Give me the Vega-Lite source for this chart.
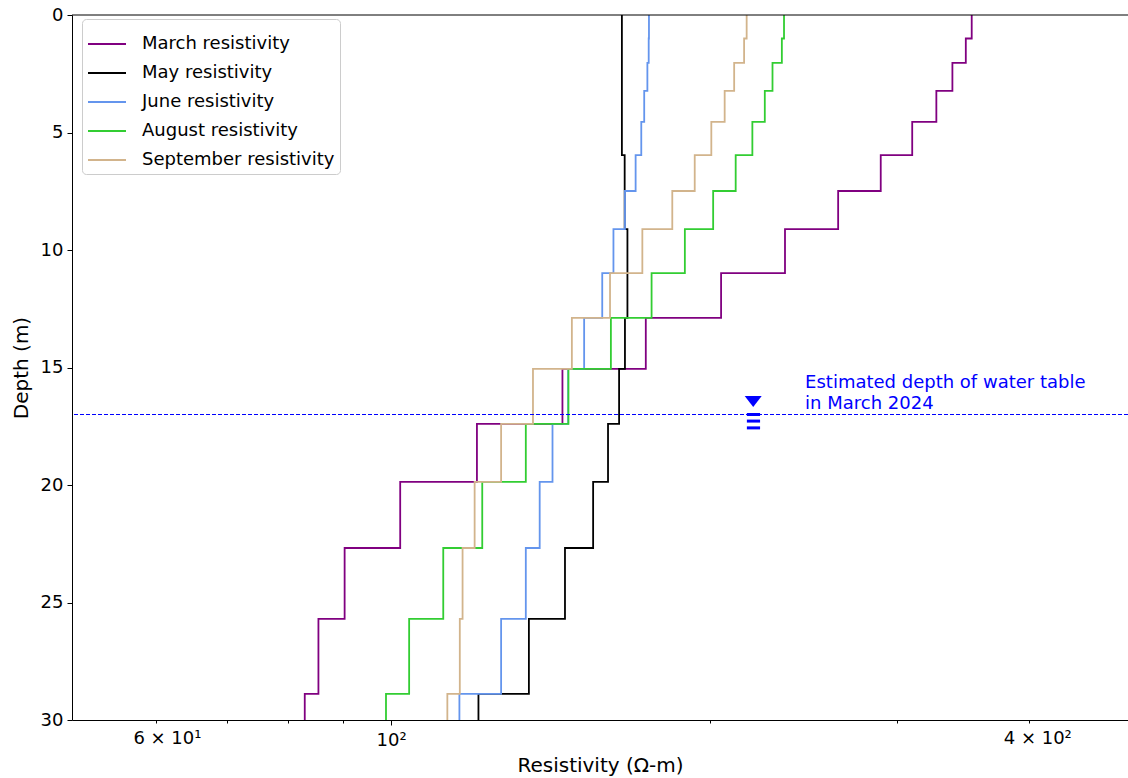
{
  "$schema": "https://vega.github.io/schema/vega-lite/v6.json",
  "width": 1056,
  "height": 705,
  "autosize": "none",
  "padding": {"left": 72, "top": 15, "right": 0, "bottom": 58},
  "background": "white",
  "config": {"view": {"stroke": null}, "font": "DejaVu Sans"},
  "datasets": {
    "profiles": [
      {"series": "March resistivity", "depth": 0, "resistivity": 353.0},
      {"series": "March resistivity", "depth": 1.0, "resistivity": 348.5},
      {"series": "March resistivity", "depth": 2.04, "resistivity": 338.5},
      {"series": "March resistivity", "depth": 3.23, "resistivity": 326.9},
      {"series": "March resistivity", "depth": 4.55, "resistivity": 310.2},
      {"series": "March resistivity", "depth": 5.96, "resistivity": 289.7},
      {"series": "March resistivity", "depth": 7.49, "resistivity": 264.1},
      {"series": "March resistivity", "depth": 9.11, "resistivity": 235.3},
      {"series": "March resistivity", "depth": 10.98, "resistivity": 204.8},
      {"series": "March resistivity", "depth": 12.89, "resistivity": 173.9},
      {"series": "March resistivity", "depth": 15.06, "resistivity": 145.1},
      {"series": "March resistivity", "depth": 17.4, "resistivity": 120.5},
      {"series": "March resistivity", "depth": 19.87, "resistivity": 102.0},
      {"series": "March resistivity", "depth": 22.68, "resistivity": 90.4},
      {"series": "March resistivity", "depth": 25.7, "resistivity": 85.4},
      {"series": "March resistivity", "depth": 28.89, "resistivity": 82.9},
      {"series": "March resistivity", "depth": 30, "resistivity": 82.9},

      {"series": "May resistivity", "depth": 0, "resistivity": 165.1},
      {"series": "May resistivity", "depth": 1.0, "resistivity": 165.1},
      {"series": "May resistivity", "depth": 2.04, "resistivity": 165.1},
      {"series": "May resistivity", "depth": 3.23, "resistivity": 165.1},
      {"series": "May resistivity", "depth": 4.55, "resistivity": 165.1},
      {"series": "May resistivity", "depth": 5.96, "resistivity": 166.1},
      {"series": "May resistivity", "depth": 7.49, "resistivity": 166.1},
      {"series": "May resistivity", "depth": 9.11, "resistivity": 167.1},
      {"series": "May resistivity", "depth": 10.98, "resistivity": 167.1},
      {"series": "May resistivity", "depth": 12.89, "resistivity": 166.2},
      {"series": "May resistivity", "depth": 15.06, "resistivity": 164.1},
      {"series": "May resistivity", "depth": 17.4, "resistivity": 160.2},
      {"series": "May resistivity", "depth": 19.87, "resistivity": 155.1},
      {"series": "May resistivity", "depth": 22.68, "resistivity": 145.9},
      {"series": "May resistivity", "depth": 25.7, "resistivity": 134.9},
      {"series": "May resistivity", "depth": 28.89, "resistivity": 120.9},
      {"series": "May resistivity", "depth": 30, "resistivity": 120.9},

      {"series": "June resistivity", "depth": 0, "resistivity": 175.1},
      {"series": "June resistivity", "depth": 1.0, "resistivity": 175.0},
      {"series": "June resistivity", "depth": 2.04, "resistivity": 174.5},
      {"series": "June resistivity", "depth": 3.23, "resistivity": 173.3},
      {"series": "June resistivity", "depth": 4.55, "resistivity": 172.2},
      {"series": "June resistivity", "depth": 5.96, "resistivity": 170.1},
      {"series": "June resistivity", "depth": 7.49, "resistivity": 166.2},
      {"series": "June resistivity", "depth": 9.11, "resistivity": 162.1},
      {"series": "June resistivity", "depth": 10.98, "resistivity": 158.2},
      {"series": "June resistivity", "depth": 12.89, "resistivity": 152.1},
      {"series": "June resistivity", "depth": 15.06, "resistivity": 146.9},
      {"series": "June resistivity", "depth": 17.4, "resistivity": 142.0},
      {"series": "June resistivity", "depth": 19.87, "resistivity": 138.1},
      {"series": "June resistivity", "depth": 22.68, "resistivity": 134.0},
      {"series": "June resistivity", "depth": 25.7, "resistivity": 127.0},
      {"series": "June resistivity", "depth": 28.89, "resistivity": 116.0},
      {"series": "June resistivity", "depth": 30, "resistivity": 116.0},

      {"series": "August resistivity", "depth": 0, "resistivity": 234.8},
      {"series": "August resistivity", "depth": 1.0, "resistivity": 233.7},
      {"series": "August resistivity", "depth": 2.04, "resistivity": 229.0},
      {"series": "August resistivity", "depth": 3.23, "resistivity": 225.2},
      {"series": "August resistivity", "depth": 4.55, "resistivity": 219.2},
      {"series": "August resistivity", "depth": 5.96, "resistivity": 211.4},
      {"series": "August resistivity", "depth": 7.49, "resistivity": 201.3},
      {"series": "August resistivity", "depth": 9.11, "resistivity": 189.3},
      {"series": "August resistivity", "depth": 10.98, "resistivity": 176.1},
      {"series": "August resistivity", "depth": 12.89, "resistivity": 161.2},
      {"series": "August resistivity", "depth": 15.06, "resistivity": 147.0},
      {"series": "August resistivity", "depth": 17.4, "resistivity": 134.0},
      {"series": "August resistivity", "depth": 19.87, "resistivity": 121.9},
      {"series": "August resistivity", "depth": 22.68, "resistivity": 112.0},
      {"series": "August resistivity", "depth": 25.7, "resistivity": 104.0},
      {"series": "August resistivity", "depth": 28.89, "resistivity": 98.9},
      {"series": "August resistivity", "depth": 30, "resistivity": 98.9},

      {"series": "September resistivity", "depth": 0, "resistivity": 216.5},
      {"series": "September resistivity", "depth": 1.0, "resistivity": 215.3},
      {"series": "September resistivity", "depth": 2.04, "resistivity": 210.7},
      {"series": "September resistivity", "depth": 3.23, "resistivity": 206.4},
      {"series": "September resistivity", "depth": 4.55, "resistivity": 200.5},
      {"series": "September resistivity", "depth": 5.96, "resistivity": 193.4},
      {"series": "September resistivity", "depth": 7.49, "resistivity": 184.2},
      {"series": "September resistivity", "depth": 9.11, "resistivity": 172.6},
      {"series": "September resistivity", "depth": 10.98, "resistivity": 160.9},
      {"series": "September resistivity", "depth": 12.89, "resistivity": 148.1},
      {"series": "September resistivity", "depth": 15.06, "resistivity": 136.1},
      {"series": "September resistivity", "depth": 17.4, "resistivity": 127.0},
      {"series": "September resistivity", "depth": 19.87, "resistivity": 119.9},
      {"series": "September resistivity", "depth": 22.68, "resistivity": 116.8},
      {"series": "September resistivity", "depth": 25.7, "resistivity": 116.1},
      {"series": "September resistivity", "depth": 28.89, "resistivity": 113.0},
      {"series": "September resistivity", "depth": 30, "resistivity": 113.0}
    ],
    "bars": [{"depth": 17.0}, {"depth": 17.28}, {"depth": 17.57}],
    "one": [{"label": "water table"}]
  },
  "layer": [
    {
      "data": {"name": "profiles"},
      "mark": {"type": "line", "interpolate": "step-before", "strokeWidth": 1.8},
      "encoding": {
        "x": {
          "field": "resistivity", "type": "quantitative",
          "scale": {"type": "log", "domain": [50, 495.7], "nice": false},
          "axis": {
            "title": "Resistivity (Ω-m)",
            "values": [60, 70, 80, 90, 100, 200, 300, 400],
            "labelExpr": "datum.value == 60 ? '6 × 10¹' : datum.value == 100 ? '10²' : datum.value == 400 ? '4 × 10²' : ''",
            "labelOverlap": false,
            "labelFlush": false,
            "labelOffset": {"expr": "datum.value == 60 ? 11 : datum.value == 400 ? 8 : 0"},
            "grid": false,
            "tickSize": {"expr": "datum.value == 100 ? 5 : 3"},
            "tickColor": "black",
            "domainColor": "black",
            "labelColor": "black",
            "titleColor": "black",
            "labelFontSize": 18,
            "titleFontSize": 20,
            "titleFontWeight": "normal",
            "labelPadding": 6,
            "titlePadding": 6
          }
        },
        "y": {
          "field": "depth", "type": "quantitative",
          "scale": {"domain": [0, 30], "reverse": true, "nice": false},
          "axis": {
            "title": "Depth (m)",
            "values": [0, 5, 10, 15, 20, 25, 30],
            "grid": false,
            "tickSize": 5,
            "tickColor": "black",
            "domainColor": "black",
            "labelColor": "black",
            "titleColor": "black",
            "labelFontSize": 18,
            "titleFontSize": 20,
            "titleFontWeight": "normal",
            "labelPadding": 4,
            "titlePadding": 9
          }
        },
        "color": {
          "field": "series", "type": "nominal",
          "scale": {
            "domain": ["March resistivity", "May resistivity", "June resistivity", "August resistivity", "September resistivity"],
            "range": ["#800080", "#000000", "#6495ED", "#32CD32", "#D2B48C"]
          },
          "legend": {
            "title": null,
            "orient": "none",
            "legendX": 10,
            "legendY": 4,
            "symbolType": "stroke",
            "symbolSize": 1444,
            "symbolStrokeWidth": 1.8,
            "labelFontSize": 18,
            "labelColor": "black",
            "labelLimit": 400,
            "labelOffset": 15,
            "padding": 5,
            "rowPadding": -1,
            "fillColor": "white",
            "strokeColor": "#cccccc",
            "cornerRadius": 4
          }
        },
        "order": {"field": "depth", "type": "quantitative"}
      }
    },
    {
      "data": {"name": "one"},
      "mark": {"type": "rule", "color": "black", "strokeWidth": 1},
      "encoding": {"y": {"datum": 0}}
    },
    {
      "data": {"name": "one"},
      "mark": {"type": "rule", "color": "blue", "strokeWidth": 1, "strokeDash": [4, 2]},
      "encoding": {"y": {"datum": 17}}
    },
    {
      "data": {"name": "one"},
      "mark": {"type": "point", "shape": "M-1,-0.65L1,-0.65L0,0.65Z", "filled": true, "color": "blue", "opacity": 1, "size": 289},
      "encoding": {"x": {"datum": 219.6}, "y": {"datum": 16.45}}
    },
    {
      "data": {"name": "bars"},
      "mark": {"type": "rule", "color": "blue", "strokeWidth": 3},
      "encoding": {
        "x": {"datum": 216.6},
        "x2": {"datum": 222.9},
        "y": {"field": "depth", "type": "quantitative"}
      }
    },
    {
      "data": {"name": "one"},
      "mark": {"type": "text", "text": ["Estimated depth of water table", "in March 2024"], "align": "left", "baseline": "alphabetic", "fontSize": 18, "lineHeight": 21, "color": "blue"},
      "encoding": {"x": {"datum": 245.8}, "y": {"datum": 15.87}}
    }
  ]
}
